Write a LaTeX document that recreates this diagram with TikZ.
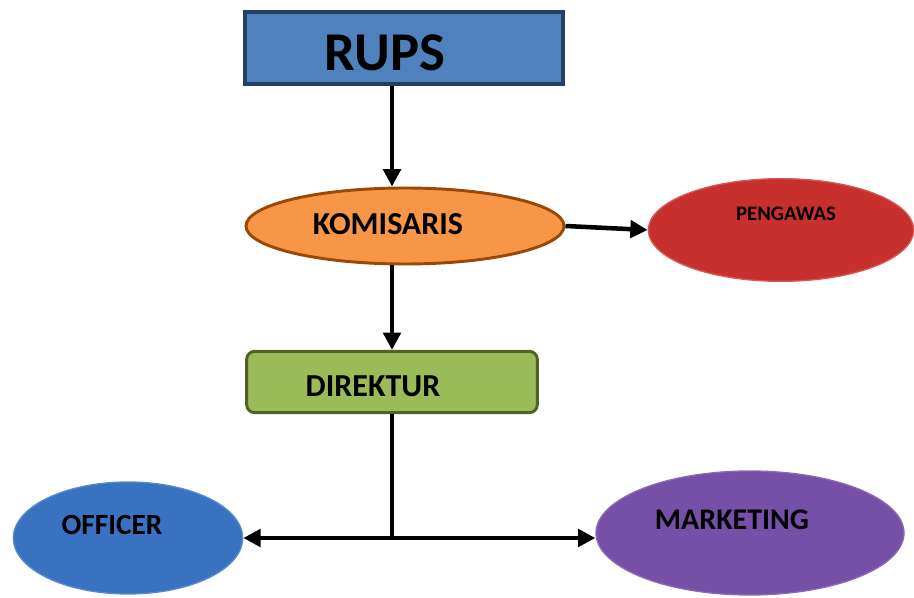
\documentclass[tikz,border=0pt]{standalone}
\usepackage{fontspec}
\setmainfont{Carlito}
\usetikzlibrary{shapes.geometric,arrows.meta}
\definecolor{rupsblue}{HTML}{4F81BD}
\definecolor{rupsline}{HTML}{243F60}
\definecolor{komorange}{HTML}{F79646}
\definecolor{komline}{HTML}{984807}
\definecolor{pengred}{HTML}{C8302E}
\definecolor{direkgreen}{HTML}{9BBB59}
\definecolor{direkline}{HTML}{4F6228}
\definecolor{offblue}{HTML}{3A72C2}
\definecolor{mktpurple}{HTML}{7650A6}
\tikzset{
  conn/.style={line width=3.4pt},
  arr/.style={conn,-{Triangle[length=13pt,width=13pt]}},
  label/.style={font=\bfseries\fontsize{24}{28}\selectfont},
  oval/.style={ellipse,inner sep=0pt}
}
\begin{document}
\begin{tikzpicture}[x=0.75pt,y=-0.75pt]
\useasboundingbox (0,0) rectangle (914,598);
% boxes
\node[draw=rupsline,fill=rupsblue,line width=3pt,minimum width=238pt,minimum height=54pt] (rups) at (404,48) {};
\node[oval,draw=komline,fill=komorange,line width=2.2pt,minimum width=238.5pt,minimum height=57pt] (komisaris) at (405,226) {};
\node[oval,draw=pengred!80!white,fill=pengred,line width=1pt,minimum width=199pt,minimum height=77pt] (pengawas) at (781,230) {};
\node[draw=direkline,fill=direkgreen,line width=2.2pt,rounded corners=6pt,minimum width=218pt,minimum height=46pt] (direktur) at (392,382) {};
\node[oval,draw=offblue!85!white,fill=offblue,line width=1pt,minimum width=172pt,minimum height=84pt] (officer) at (128,538) {};
\node[oval,draw=mktpurple!85!white,fill=mktpurple,line width=1pt,minimum width=231pt,minimum height=93pt] (marketing) at (750,533) {};
\coordinate (split) at (392,538);
% texts
\node[label,font=\bfseries\fontsize{41}{45}\selectfont] (rups-t) at (385,53) {RUPS};
\node[label] (komisaris-t) at (388,224) {KOMISARIS};
\node[label,font=\bfseries\fontsize{15.5}{18}\selectfont] (pengawas-t) at (786,214) {PENGAWAS};
\node[label] (direktur-t) at (373,386) {DIREKTUR};
\node[label,font=\bfseries\fontsize{22}{26}\selectfont] (officer-t) at (112,525) {OFFICER};
\node[label,font=\bfseries\fontsize{22.5}{26}\selectfont] (marketing-t) at (732,520) {MARKETING};
% connectors
\draw[arr] (rups.south -| split) -- (komisaris.north -| split);
\draw[arr] (komisaris.east) -- (pengawas.west);
\draw[arr] (komisaris.south -| split) -- (direktur.north -| split);
\draw[conn] (direktur.south -| split) -- (split);
\draw[arr] (split) -- (officer.east);
\draw[arr] (split) -- (split -| marketing.west);
\end{tikzpicture}
\end{document}
